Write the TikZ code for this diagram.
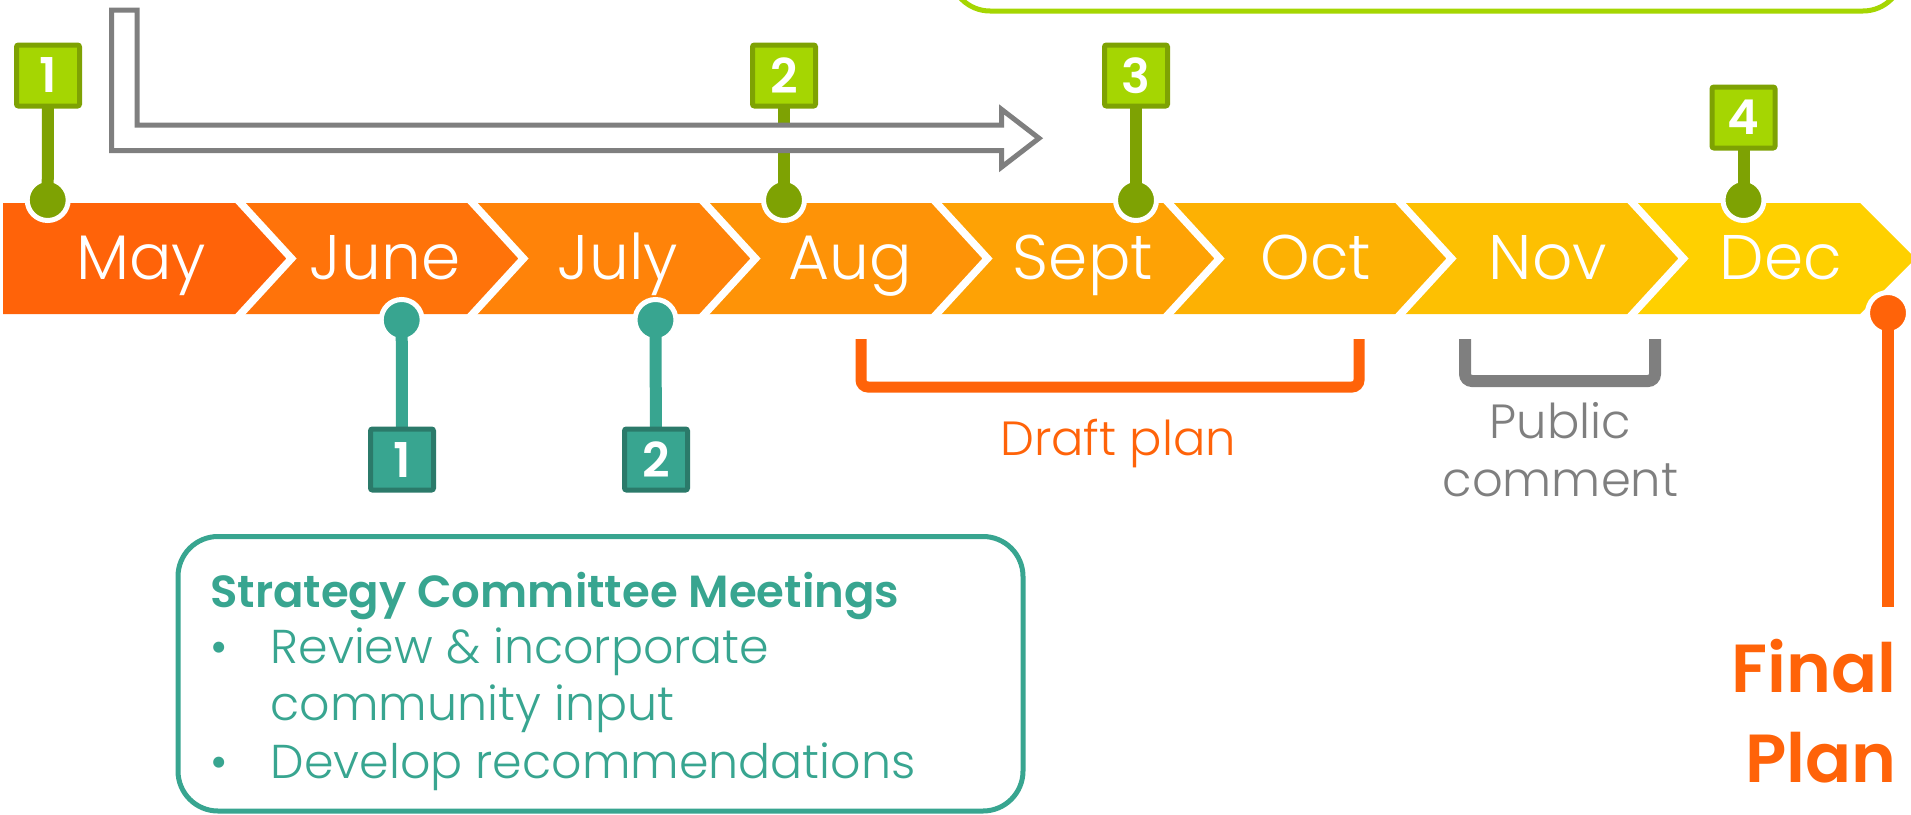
\documentclass[tikz,border=0pt]{standalone}
\usepackage{fontspec}
\IfFontExistsTF{Poppins Light}{%
  \IfFontExistsTF{Poppins SemiBold}%
    {\setmainfont{Poppins Light}[BoldFont=Poppins SemiBold]}%
    {\setmainfont{Poppins Light}[BoldFont=Poppins Bold]}%
}{\setmainfont{Poppins}}
\definecolor{c0}{RGB}{255,99,9}
\definecolor{c1}{RGB}{255,115,10}
\definecolor{c2}{RGB}{255,131,9}
\definecolor{c3}{RGB}{254,147,7}
\definecolor{c4}{RGB}{254,162,5}
\definecolor{c5}{RGB}{253,177,3}
\definecolor{c6}{RGB}{253,192,2}
\definecolor{c7}{RGB}{255,208,0}
\definecolor{gLight}{RGB}{165,214,2}
\definecolor{gDark}{RGB}{126,162,3}
\definecolor{tealA}{RGB}{56,165,144}
\definecolor{tealD}{RGB}{43,122,106}
\definecolor{grayA}{RGB}{127,127,127}
\definecolor{orA}{RGB}{255,99,9}
\begin{document}
\begin{tikzpicture}[x=1pt,y=-1pt,
  month/.style={anchor=base, text=white, inner sep=0pt, font=\fontsize{63pt}{70pt}\selectfont},
  pindot/.style={circle, draw=white, line width=5pt, minimum size=41pt, inner sep=0pt},
  numbox/.style={line width=5pt, minimum width=63pt, minimum height=61pt, rounded corners=2pt,
    inner sep=0pt, text=white, font=\bfseries\fontsize{48pt}{48pt}\selectfont},
  gbox/.style={numbox, draw=gDark, fill=gLight},
  tbox/.style={numbox, draw=tealD, fill=tealA},
  stemG/.style={gDark, line width=12pt},
  stemT/.style={tealA, line width=12pt},
  lbl/.style={anchor=base, inner sep=0pt, font=\fontsize{48pt}{56pt}\selectfont},
  boxtxt/.style={anchor=base west, inner sep=0pt, text=tealA, font=\fontsize{47.5pt}{56pt}\selectfont},
  finaltxt/.style={anchor=base east, inner sep=0pt, text=orA, font=\bfseries\fontsize{68pt}{90pt}\selectfont},
]
\useasboundingbox (0,0) rectangle (1911,814);
\begin{scope}
\clip (0,0) rectangle (1911,814);

% top-right green frame (partially visible)
\draw[gLight, line width=5pt, rounded corners=40pt] (950,-80) rectangle (1903,11);

% timeline band
\fill[c0] (3,203) -- (236,203) -- (291.5,258.5) -- (236,314) -- (3,314) -- cycle;
\foreach \i/\c in {1/c1,2/c2,3/c3,4/c4,5/c5,6/c6,7/c7}{
  \pgfmathsetmacro{\L}{236+232*(\i-1)}
  \pgfmathsetmacro{\R}{236+232*\i}
  \fill[\c] (\L,203) -- (\R,203) -- (\R+55.5,258.5) -- (\R,314) -- (\L,314) -- (\L+55.5,258.5) -- cycle;
}
\foreach \i in {0,...,6}{
  \pgfmathsetmacro{\R}{236+232*\i}
  \draw[white, line width=7.5pt, line join=miter] (\R,198) -- (\R+55.5,258.5) -- (\R,319);
}

% month labels
\node[month] (may)  at (141,279) {May};
\node[month] (jun)  at (385,279) {June};
\node[month] (jul)  at (618,279) {July};
\node[month] (aug)  at (850,279) {Aug};
\node[month] (sep)  at (1083,279) {Sept};
\node[month] (oct)  at (1316,279) {Oct};
\node[month] (nov)  at (1548,279) {Nov};
\node[month] (dec)  at (1781,279) {Dec};

% pin dots
\node[pindot, fill=gDark] (g1) at (47.7,200) {};
\node[pindot, fill=gDark] (g2) at (784,200) {};
\node[pindot, fill=gDark] (g3) at (1136,200) {};
\node[pindot, fill=gDark] (g4) at (1743.5,200) {};
\node[pindot, fill=tealA] (t1) at (401.7,320) {};
\node[pindot, fill=tealA] (t2) at (655.5,320) {};
\node[pindot, fill=orA] (o1) at (1888,313) {};
\coordinate (oend) at (1888,607);

% box positions (invisible anchors for stems)
\coordinate (b1) at (48,75.5);
\coordinate (b2) at (784,75.5);
\coordinate (b3) at (1136,75.5);
\coordinate (b4) at (1743.5,117.5);
\coordinate (s1) at (402,459.5);
\coordinate (s2) at (656,459.5);

% stems
\draw[stemG] (g1.center) -- (b1);
\draw[stemG] (g2.center) -- (b2);
\draw[stemG] (g3.center) -- (b3);
\draw[stemG] (g4.center) -- (b4);
\draw[stemT] (t1.center) -- (s1);
\draw[stemT] (t2.center) -- (s2);
\draw[orA, line width=12pt] (o1.center) -- (oend);

% number boxes on top of stems
\node[gbox] (nb1) at (b1) {1};
\node[gbox] (nb2) at (b2) {2};
\node[gbox] (nb3) at (b3) {3};
\node[gbox] (nb4) at (b4) {4};
\node[tbox] (ns1) at (s1) {1};
\node[tbox] (ns2) at (s2) {2};

% hollow gray arrow
\draw[grayA, line width=5pt, fill=white, line join=miter]
  (111.7,10) -- (137,10) -- (137,125) -- (1001.7,125) -- (1001.7,109.5)
  -- (1039,138.25) -- (1001.7,167) -- (1001.7,150.5) -- (111.7,150.5) -- cycle;

% brackets
\draw[orA, line width=11pt, rounded corners=7pt] (861,339) -- (861,387) -- (1359,387) -- (1359,339);
\draw[grayA, line width=12pt, rounded corners=7pt] (1465,339) -- (1465,381) -- (1655,381) -- (1655,339);

\node[lbl, text=orA] (draft) at (1118,455) {Draft plan};
\node[lbl, text=grayA] (pub1) at (1560.5,438) {Public};
\node[lbl, text=grayA] (pub2) at (1560.5,496) {comment};

\node[finaltxt] (fin1) at (1897,692.7) {Final};
\node[finaltxt] (fin2) at (1897,782.7) {Plan};

% strategy committee box
\draw[tealA, line width=5pt, rounded corners=40pt] (178,536.5) rectangle (1023,811);
\node[boxtxt, font=\bfseries\fontsize{45pt}{56pt}\selectfont] (hd) at (210,607) {Strategy Committee Meetings};
\node[boxtxt] (bu1) at (210,663) {•};
\node[boxtxt] (it1) at (270.5,663) {Review \& incorporate};
\node[boxtxt] (it1b) at (270.5,720) {community input};
\node[boxtxt] (bu2) at (210,778) {•};
\node[boxtxt] (it2) at (270.5,778) {Develop recommendations};
\end{scope}
\end{tikzpicture}
\end{document}
